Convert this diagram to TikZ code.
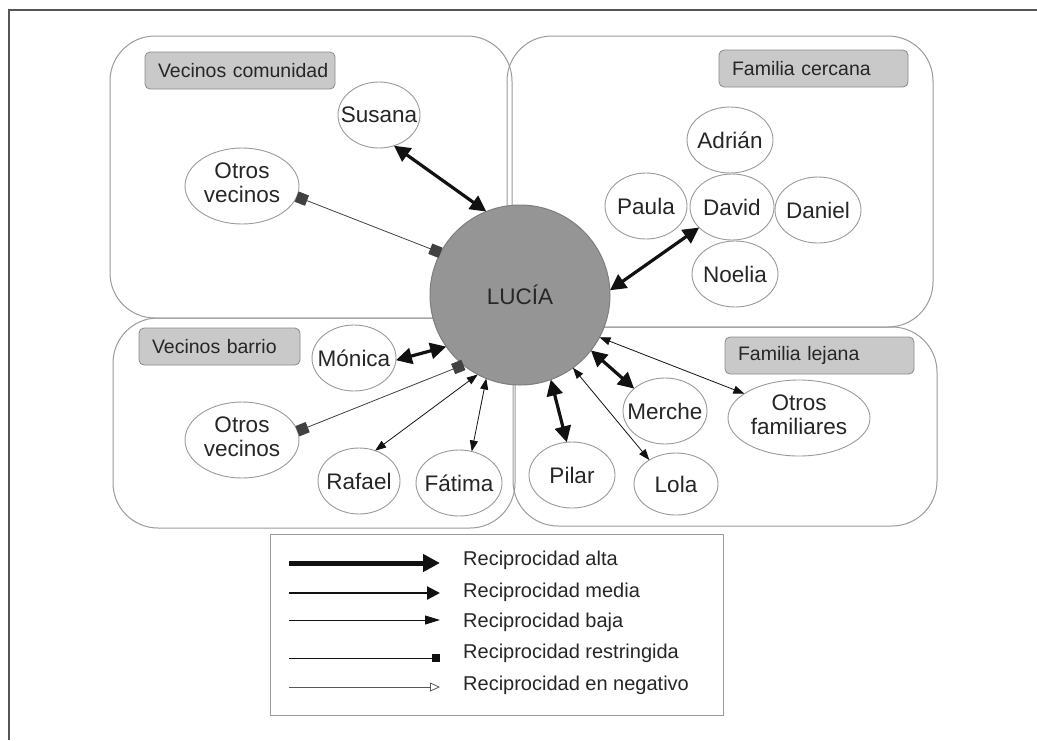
\documentclass[tikz,border=0pt]{standalone}
\usepackage{fontspec}
\setmainfont{Liberation Sans}
\usetikzlibrary{shapes.geometric,arrows.meta}
\definecolor{framec}{HTML}{555555}
\definecolor{boxc}{HTML}{9A9A9A}
\definecolor{labfill}{HTML}{C9C9C9}
\definecolor{labdraw}{HTML}{8A8A8A}
\definecolor{lucfill}{HTML}{959595}
\definecolor{lucdraw}{HTML}{7E7E7E}
\definecolor{txt}{HTML}{262626}
\definecolor{arr}{HTML}{111111}
\newcommand\pnm[1]{\makebox[0pt]{#1}}
\newcommand\pnmm[2]{\makebox[0pt]{\begin{tabular}{@{}c@{}}#1\\#2\end{tabular}}}
\tikzset{
  grp/.style={draw=boxc, line width=1pt, rounded corners=45pt},
  grplab/.style={draw=labdraw, fill=labfill, line width=0.8pt, rounded corners=5pt,
    anchor=north west, minimum height=37pt, inner xsep=13pt, inner ysep=0pt,
    align=left, font=\fontsize{19.5}{22}\selectfont, text=txt, outer sep=0pt},
  person/.style={ellipse, draw=boxc, fill=white, line width=0.9pt, inner sep=0pt,
    outer sep=0pt, font=\fontsize{22.5}{24}\selectfont, text=txt},
  recdiag/.style={draw=arr, line width=3.2pt,
    {Triangle[length=16pt,width=16pt]}-{Triangle[length=16pt,width=16pt]}},
  recbaja/.style={draw=arr, line width=0.8pt,
    {Triangle[length=11pt,width=8pt]}-{Triangle[length=11pt,width=8pt]}},
  recrest/.style={draw=arr!80!white, line width=0.8pt,
    {Square[length=11pt,width=11pt]}-{Square[length=11pt,width=11pt]}},
  legline/.style={draw=arr},
  legtext/.style={anchor=base west, font=\fontsize{20}{22}\selectfont, text=txt, inner sep=0pt}
}
\begin{document}
\begin{tikzpicture}[x=1pt,y=-1pt]
\useasboundingbox (0,0) rectangle (1037,740);
% frame (top and left only)
\draw[framec, line width=2pt] (9,740) -- (9,10) -- (1037,10);
% group boxes
\draw[grp] (110,36) rectangle (512,318);
\draw[grp] (507,36) rectangle (933,327);
\draw[grp] (113,318) rectangle (515,528);
\draw[grp] (513,327) rectangle (937,526);
% group labels
\node[grplab, text width=164pt] (lcom) at (145,52) {\mbox{Vecinos comunidad}};
\node[grplab, text width=163pt] (lcer) at (719,50) {\mbox{Familia cercana}};
\node[grplab, text width=135pt] (lbar) at (139,328) {\mbox{Vecinos barrio}};
\node[grplab, text width=163pt] (llej) at (725,337) {\mbox{Familia lejana}};
% central node
\node[circle, draw=lucdraw, fill=lucfill, line width=1pt, minimum size=180pt,
  inner sep=0pt, outer sep=0pt, font=\fontsize{22.5}{24}\selectfont, text=txt] (lucia) at (520,295) {LUCÍA};
% people
\node[person, minimum width=82pt, minimum height=66pt] (susana) at (379,115) {\pnm{Susana}};
\node[person, minimum width=114pt, minimum height=76pt] (ov1) at (242,186) {\pnmm{Otros}{vecinos}};
\node[person, minimum width=86pt, minimum height=66pt] (adrian) at (730,140) {\pnm{Adrián}};
\node[person, minimum width=82pt, minimum height=66pt] (paula) at (646,206) {\pnm{Paula}};
\node[person, minimum width=84pt, minimum height=66pt] (david) at (732,207) {\pnm{David}};
\node[person, minimum width=86pt, minimum height=66pt] (daniel) at (818,210) {\pnm{Daniel}};
\node[person, minimum width=86pt, minimum height=66pt] (noelia) at (735,274) {\pnm{Noelia}};
\node[person, minimum width=84pt, minimum height=66pt] (monica) at (354,358) {\pnm{Mónica}};
\node[person, minimum width=114pt, minimum height=76pt] (ov2) at (242,440) {\pnmm{Otros}{vecinos}};
\node[person, minimum width=82pt, minimum height=66pt] (rafael) at (359,481) {\pnm{Rafael}};
\node[person, minimum width=86pt, minimum height=66pt] (fatima) at (459,483) {\pnm{Fátima}};
\node[person, minimum width=84pt, minimum height=66pt] (merche) at (665,411) {\pnm{Merche}};
\node[person, minimum width=142pt, minimum height=76pt] (ofam) at (799,418) {\pnmm{Otros}{familiares}};
\node[person, minimum width=86pt, minimum height=66pt] (pilar) at (572,475) {\pnm{Pilar}};
\node[person, minimum width=84pt, minimum height=62pt] (lola) at (676,484) {\pnm{Lola}};
% connectors
\draw[recdiag] (susana.-64) -- (lucia.112);
\draw[recrest] (ov1.-11) -- (lucia.152);
\draw[recdiag] (david.-148) -- (lucia.3);
\draw[recdiag] (monica.-3) -- (lucia.215);
\draw[recrest] (ov2.9) -- (lucia.231.6);
\draw[recbaja] (rafael.62) -- (lucia.242.3);
\draw[recbaja] (fatima.68) -- (lucia.248);
\draw[recdiag] (pilar.99) -- (lucia.290.6);
\draw[recbaja] (lola.138) -- (lucia.306.4);
\draw[recdiag] (merche.144) -- (lucia.322.6);
\draw[recbaja] (ofam.156) -- (lucia.332.3);
% legend
\node[draw=boxc, line width=0.9pt, minimum width=453pt, minimum height=181pt,
  anchor=north west, inner sep=0pt, outer sep=0pt] (legend) at (270,534) {};
\coordinate (a1) at (289,563); \coordinate (a2) at (440,563);
\coordinate (m1) at (289,593); \coordinate (m2) at (440,593);
\coordinate (b1) at (289,620); \coordinate (b2) at (440,620);
\coordinate (r1) at (289,658); \coordinate (r2) at (440,658);
\coordinate (n1) at (289,687); \coordinate (n2) at (440,687);
\draw[legline, line width=5pt, -{Triangle[length=17pt,width=17pt]}] (a1) -- (a2);
\draw[legline, line width=2.2pt, -{Triangle[length=13pt,width=13pt]}] (m1) -- (m2);
\draw[legline, line width=1pt, -{Triangle[length=15pt,width=9pt]}] (b1) -- (b2);
\draw[legline, line width=0.9pt, -{Square[length=8pt,width=8pt]}] (r1) -- (r2);
\draw[legline, draw=arr!70!white, line width=0.8pt, -{Triangle[open,length=10pt,width=9pt]}] (n1) -- (n2);
\node[legtext] (ta) at (463,565) {Reciprocidad alta};
\node[legtext] (tm) at (463,597) {Reciprocidad media};
\node[legtext] (tb) at (463,627) {Reciprocidad baja};
\node[legtext] (tr) at (463,658) {Reciprocidad restringida};
\node[legtext] (tn) at (463,690) {Reciprocidad en negativo};
\end{tikzpicture}
\end{document}
